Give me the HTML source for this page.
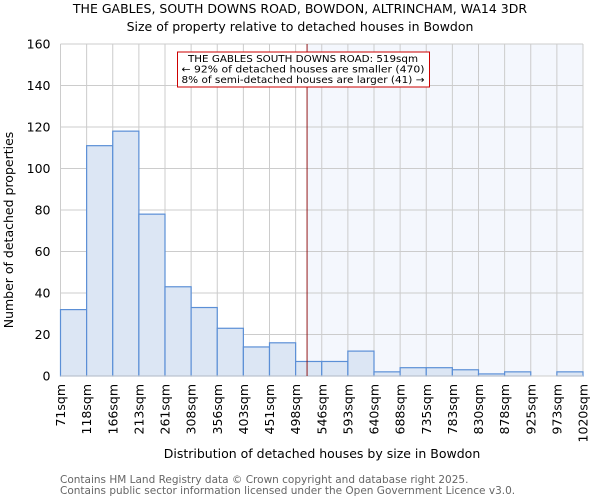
<!DOCTYPE html>
<html><head><meta charset="utf-8"><style>
body{margin:0;background:#fff;font-family:"DejaVu Sans","Liberation Sans",sans-serif}
</style></head><body>
<svg id="chart" width="600" height="500" xmlns="http://www.w3.org/2000/svg" font-family="DejaVu Sans, Liberation Sans, sans-serif">
<text x="300" y="13" text-anchor="middle" font-size="12.5">THE GABLES, SOUTH DOWNS ROAD, BOWDON, ALTRINCHAM, WA14 3DR</text>
<text x="300" y="31" text-anchor="middle" font-size="12.5">Size of property relative to detached houses in Bowdon</text>
<g id="grid"></g><g id="bars"></g><g id="axes"></g>
<text transform="translate(13,230) rotate(-90)" text-anchor="middle" font-size="12.5">Number of detached properties</text>
<text x="322" y="458" text-anchor="middle" font-size="12.5">Distribution of detached houses by size in Bowdon</text>
<text x="60" y="483" font-size="10.5" fill="#666">Contains HM Land Registry data © Crown copyright and database right 2025.</text>
<text x="60" y="494" font-size="10.5" fill="#666">Contains public sector information licensed under the Open Government Licence v3.0.</text>
</svg>
<script>
const edges=[71,118,166,213,261,308,356,403,451,498,546,593,640,688,735,783,830,878,925,973,1020];
const counts=[32,111,118,78,43,33,23,14,16,7,7,12,2,4,4,3,1,2,0,2];
const yTicks=[0,20,40,60,80,100,120,140,160];
const subject=519;
const NS="http://www.w3.org/2000/svg";
const X0=60.5,X1=583,Y0=376,Y1=44;
const xi=i=>X0+i*(X1-X0)/counts.length;
const xv=v=>{for(let i=0;i<edges.length-1;i++){if(v<=edges[i+1])return xi(i)+(v-edges[i])/(edges[i+1]-edges[i])*(xi(i+1)-xi(i));}return X1;};
const y=v=>Y0-v/160*(Y0-Y1);
function mk(t,a,p){const e=document.createElementNS(NS,t);for(const k in a)e.setAttribute(k,a[k]);p.appendChild(e);return e;}
const g=document.getElementById('grid'),b=document.getElementById('bars'),ax=document.getElementById('axes');
const sx=xv(subject);
const sh=mk('rect',{x:sx,y:Y1,width:X1-sx,height:Y0-Y1,fill:'#f4f7fd'},g);


yTicks.forEach(t=>{const l=mk('line',{x1:X0,x2:X1,y1:y(t),y2:y(t),stroke:'#ccc'},g);


const tx=mk('text',{x:X0-10,y:y(t)+4.5,'text-anchor':'end','font-size':'12.5'},ax);tx.textContent=t;

});
edges.forEach((e,i)=>{const l=mk('line',{x1:xi(i),x2:xi(i),y1:Y1,y2:Y0,stroke:'#ccc'},g);


const tx=mk('text',{transform:`translate(${xi(i)+4.5},${Y0+8}) rotate(-90)`,'text-anchor':'end','font-size':'12.5'},ax);tx.textContent=e+'sqm';

});
counts.forEach((c,i)=>{if(c<=0)return;const r=mk('rect',{x:xi(i),y:y(c),width:xi(i+1)-xi(i),height:Y0-y(c),fill:'#dce6f4',stroke:'#5b8fd6','stroke-width':1.2},b);

});
const bl=mk('line',{x1:X0,x2:X1,y1:Y0,y2:Y0,stroke:'#ccc'},ax);


const ml=mk('line',{x1:sx,x2:sx,y1:Y1,y2:Y0,stroke:'#800','stroke-width':0.9},ax);


const box=mk('rect',{x:177.5,y:52,width:252,height:35,fill:'#fff',stroke:'#c00','stroke-width':1},ax);


[['THE GABLES SOUTH DOWNS ROAD: 519sqm',62],['← 92% of detached houses are smaller (470)',72.5],['8% of semi-detached houses are larger (41) →',83]].forEach(([s,yy])=>{const t=mk('text',{x:303,y:yy,'text-anchor':'middle','font-size':'10','textLength':'243','lengthAdjust':'spacingAndGlyphs'},ax);t.textContent=s;
if(yy===62)t.setAttribute('textLength','230');

});
</script>
</body></html>
